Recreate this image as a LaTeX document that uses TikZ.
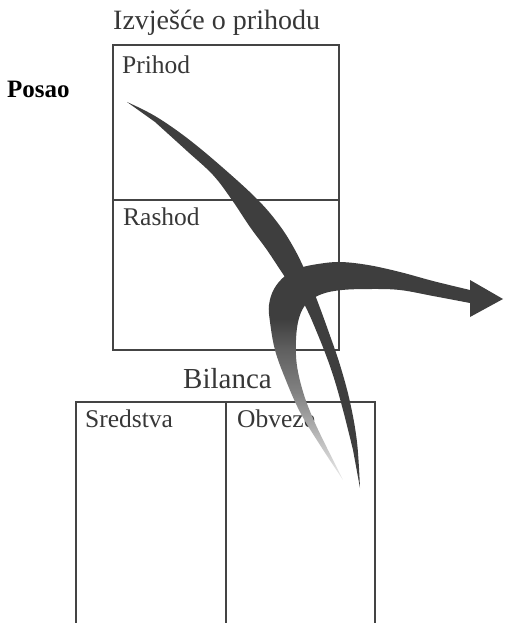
\documentclass[tikz,border=0pt]{standalone}
\usepackage{fontspec}
\setmainfont{Liberation Serif}
\usepackage{tikz}
\usepackage{xcolor}
\usetikzlibrary{positioning}
\definecolor{bxline}{RGB}{68, 68, 68}
\definecolor{bxtext}{RGB}{55, 55, 55}
\definecolor{flowdark}{RGB}{62, 62, 62}
\definecolor{fadeA}{RGB}{235, 235, 235}
\definecolor{fadeB}{RGB}{185, 185, 185}
\definecolor{fadeC}{RGB}{130, 130, 130}
\definecolor{fadeD}{RGB}{95, 95, 95}
\pgfdeclareverticalshading{tailfade}{100bp}{color(0bp)=(fadeA); color(25bp)=(fadeA); color(35bp)=(fadeB); color(45bp)=(fadeC); color(55bp)=(fadeD); color(62bp)=(flowdark); color(100bp)=(flowdark)}
\tikzset{
    boxline/.style={draw=bxline, line width=2.2pt},
    sheetlabel/.style={anchor=base west, inner sep=0pt, text=bxtext, font=\fontsize{25.5}{30}\selectfont},
    sheettitle/.style={sheetlabel, font=\fontsize{28}{33}\selectfont},
    bigtitle/.style={sheetlabel, font=\fontsize{29}{34}\selectfont},
    sidelabel/.style={anchor=base west, inner sep=0pt, text=black, font=\fontsize{25}{30}\selectfont\bfseries},
    flowfill/.style={fill=flowdark},
    tailflow/.style={shading=tailfade}
}

\begin{document}
\begin{tikzpicture}[x=1pt, y=-1pt]
    \useasboundingbox (0,0) rectangle (504,623);
    % racun dobiti
    \draw[boxline] (113,45) rectangle (339,350);
    \draw[boxline] (113,200) -- (339,200);
    % bilanca
    \draw[boxline] (76,623) -- (76,402) -- (375,402) -- (375,623);
    \draw[boxline] (226,402) -- (226,623);

    \node[sheettitle] (izvjesce) at (113,30) {Izvješće o prihodu};
    \node[sheetlabel] (prihod) at (122,74) {Prihod};
    \node[sheetlabel] (rashod) at (123,225) {Rashod};
    \node[bigtitle] (bilanca) at (183,388) {Bilanca};
    \node[sheetlabel] (sredstva) at (85,427) {Sredstva};
    \node[sheetlabel] (obveze) at (237,427) {Obveze};
    \node[sidelabel] (posao) at (7,98) {Posao};

    \shade[tailflow] plot[smooth, tension=0.6] coordinates {(343,480) (320,445) (300,412) (285,378) (275,350) (270,322) (269,305) (274,289) (285,276) (300,268) (318,264) (340,262) (368,265) (400,272) (433,281) (470,290)}
        -- (470,280) -- (503,299) -- (470,317)
        -- plot[smooth, tension=0.6] coordinates {(470,303) (433,296) (400,290) (370,289) (342,290) (322,294) (307,303) (299,318) (296,340) (297,366) (304,395) (315,423) (329,452)} -- cycle;

    \fill[flowfill] plot[smooth, tension=0.6] coordinates {(127,102) (155,116) (187,138) (222,167) (258,200) (280,226) (295,250) (307,275) (317,300) (328,330) (340,365) (350,402) (357,442) (360,488)}
        -- plot[smooth, tension=0.6] coordinates {(353,450) (343,410) (332,372) (318,335) (303,302) (285,277) (267,250) (250,227) (232,200) (213,175) (187,151) (155,122)} -- cycle;
\end{tikzpicture}
\end{document}
